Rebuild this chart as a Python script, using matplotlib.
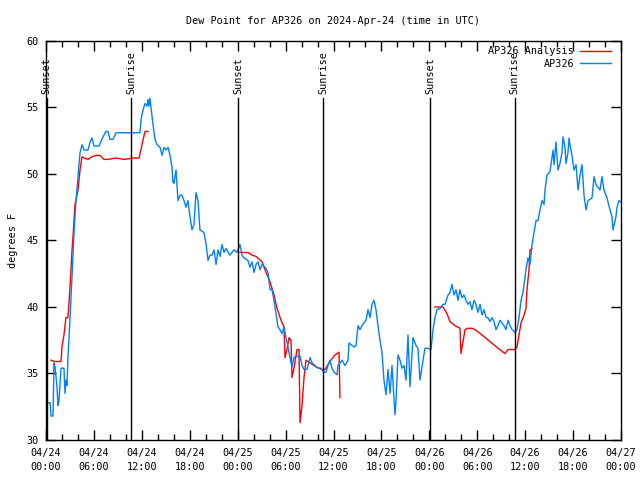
import matplotlib
matplotlib.use("Agg")
import matplotlib.pyplot as plt
import numpy as np
from matplotlib.ticker import MultipleLocator

# hours since 2024-04-24 00:00 UTC
obs_hours = [
    0.25, 0.50, 0.63, 0.88, 1.00, 1.13, 1.38, 1.50, 1.63, 1.88, 2.25, 2.38, 2.50, 2.63, 2.75,
    3.01, 3.26, 3.51, 3.76, 4.01, 4.26, 4.51, 4.76, 5.26, 5.51, 5.76, 6.01, 6.64, 7.14, 7.51,
    7.76, 8.01, 8.39, 8.77, 11.77, 11.90, 12.15, 12.40, 12.65, 12.77, 12.90, 13.02, 13.15, 13.40,
    13.65, 13.90, 14.28, 14.53, 14.78, 15.03, 15.28, 15.53, 15.78, 15.90, 16.03, 16.28, 16.53,
    16.78, 17.03, 17.28, 17.53, 17.78, 18.03, 18.28, 18.53, 18.78, 19.03, 19.28, 19.78, 20.03,
    20.29, 20.54, 20.79, 21.04, 21.29, 21.54, 21.79, 22.04, 22.29, 22.54, 23.04, 23.54, 23.92,
    24.29, 24.54, 24.79, 25.29, 25.54, 25.80, 26.05, 26.30, 26.55, 26.80, 27.05, 27.42, 27.80,
    28.05, 28.30, 28.55, 28.80, 29.05, 29.30, 29.55, 29.80, 30.05, 30.30, 30.55, 30.80, 31.05,
    31.30, 31.81, 32.06, 32.31, 32.68, 33.06, 33.31, 33.68, 34.06, 34.44, 34.81, 35.06, 35.31,
    35.56, 35.81, 36.06, 36.44, 36.56, 37.07, 37.44, 37.82, 37.94, 38.32, 38.57, 38.82, 39.07,
    39.32, 39.57, 40.07, 40.32, 40.57, 40.82, 41.07, 41.32, 41.57, 41.82, 42.07, 42.32, 42.57,
    42.83, 43.08, 43.33, 43.58, 43.70, 43.83, 44.08, 44.33, 44.58, 44.83, 45.08, 45.33, 45.58,
    45.96, 46.33, 46.58, 46.83, 47.21, 47.46, 47.83, 48.21, 48.46, 48.71, 48.96, 49.34, 49.71,
    49.96, 50.34, 50.59, 50.84, 51.09, 51.34, 51.59, 51.84, 52.09, 52.34, 52.59, 52.84, 53.09,
    53.34, 53.59, 53.84, 54.09, 54.35, 54.60, 54.85, 55.10, 55.35, 55.60, 55.85, 56.10, 56.35,
    56.60, 56.85, 57.35, 57.60, 57.85, 58.10, 58.35, 58.73, 58.98, 59.23, 59.48, 59.73, 60.10,
    60.35, 60.61, 60.86, 61.11, 61.36, 61.61, 61.86, 62.11, 62.36, 62.48, 62.73, 63.11, 63.49,
    63.61, 63.86, 64.11, 64.36, 64.61, 64.74, 64.99, 65.11, 65.36, 65.49, 65.61, 65.86, 66.11,
    66.37, 66.62, 66.87, 67.12, 67.37, 67.62, 67.87, 68.37, 68.62, 68.87, 69.37, 69.62, 69.87,
    70.25, 70.62, 70.87, 71.00, 71.37, 71.50, 71.75, 72.00,
]
obs_dewpt = [
    32.8, 32.8, 31.8, 31.8, 35.8, 35.5, 34.0, 32.6, 33.0, 35.4, 35.4, 33.5, 34.5, 34.1, 36.2,
    39.2, 42.3, 45.6, 48.0, 49.8, 51.6, 52.2, 51.8, 51.8, 52.4, 52.7, 52.1, 52.1, 52.8, 53.2,
    53.2, 52.6, 52.6, 53.1, 53.1, 54.1, 54.8, 55.3, 55.1, 55.6, 55.1, 55.7, 55.0, 53.7,
    52.6, 52.2, 52.0, 51.4, 52.0, 51.8, 52.0, 51.4, 50.5, 49.4, 49.3, 50.3, 48.0,
    48.4, 48.4, 48.0, 47.5, 48.0, 46.8, 45.8, 46.2, 48.6, 48.0, 45.8, 45.6, 44.8,
    43.5, 43.9, 43.9, 44.3, 43.2, 44.3, 43.8, 44.7, 44.1, 44.4, 43.9, 44.3, 44.1,
    44.7, 43.9, 43.7, 43.5, 43.0, 43.4, 42.6, 43.2, 43.4, 42.8, 43.2, 43.0, 42.6,
    41.3, 41.3, 40.5, 39.5, 38.5, 38.3, 38.0, 38.5, 37.7, 37.0, 36.2, 35.5, 36.2,
    36.3, 36.3, 35.6, 35.3, 35.3, 36.2, 35.8, 35.6, 35.4, 35.4, 35.1, 35.1, 35.6,
    36.0, 35.4, 35.1, 34.9, 35.6, 36.0, 35.6, 36.0, 37.3, 37.1, 37.0, 37.1, 38.6,
    38.3, 38.6, 39.0, 39.8, 39.2, 40.2, 40.5, 39.8, 38.6, 37.5, 36.6, 34.5, 33.4,
    35.3, 33.5, 35.6, 33.0, 31.9, 33.0, 36.4, 36.0, 35.4, 35.6, 34.5, 37.9, 34.0,
    37.7, 37.1, 36.9, 34.5, 36.0, 36.9, 36.9, 36.8, 38.3, 39.2, 39.8, 39.9, 40.2,
    40.2, 40.9, 41.1, 41.7, 40.9, 41.3, 40.5, 41.3, 40.7, 40.9, 40.5, 40.2, 40.4,
    39.8, 40.5, 40.2, 39.6, 40.2, 39.4, 39.8, 39.2, 39.2, 38.9, 39.2, 38.9, 38.3,
    38.6, 39.0, 38.6, 38.3, 39.0, 38.6, 38.3, 38.1, 38.3, 39.2, 40.5, 41.1, 42.8,
    43.7, 43.2, 44.7, 45.6, 46.5, 46.5, 47.3, 48.0, 47.7, 48.8, 49.9, 50.2, 51.8,
    50.7, 52.4, 50.3, 50.8, 51.6, 52.8, 52.0, 50.8, 51.6, 52.7, 52.2, 51.4, 50.3,
    50.7, 48.8, 49.9, 50.7, 48.4, 47.3, 48.0, 48.2, 49.8, 49.2, 48.8, 49.8, 48.8,
    48.2, 47.3, 46.8, 45.8, 46.8, 47.5, 48.0, 47.9,
]

# analysis series, NaN marks the gaps
ana_hours = [
    0.63, 1.13, 1.88, 2.00, 2.25, 2.50, 2.75, 3.01, 3.26, 3.38, 3.63, 4.01, 4.26, 4.51, 4.76,
    5.26, 5.76, 6.26, 6.76, 7.26, 7.76, 8.77, 9.77, 11.02, 11.65, 12.02, 12.40, 12.77,
    18.0,
    24.29, 25.29, 25.80, 26.30, 27.05, 27.55, 28.05, 28.55, 28.93, 29.43, 29.80, 29.93, 30.18,
    30.43, 30.68, 30.80, 31.05, 31.43, 31.68, 31.81, 32.06, 32.31, 32.56, 33.06, 33.81, 34.56,
    34.94, 35.56, 36.19, 36.69, 36.81,
    42.0,
    48.71, 49.71, 50.21, 50.59, 51.21, 51.84, 51.96, 52.22, 52.47, 52.84, 53.34, 53.72, 54.60,
    55.60, 56.60, 57.48, 57.85, 58.35, 58.73, 58.98, 59.23, 59.48, 59.86, 60.10, 60.23, 60.48,
    60.61, 60.86,
]
ana_dewpt = [
    36.0, 35.9, 35.9, 37.0, 37.9, 39.2, 39.2, 41.5, 44.3, 45.3, 47.7, 48.8, 50.3, 51.3, 51.2,
    51.1, 51.3, 51.4, 51.4, 51.1, 51.1, 51.2, 51.1, 51.2, 51.2, 52.2, 53.2, 53.2,
    np.nan,
    44.1, 44.1, 43.9, 43.8, 43.4, 42.6, 41.9, 40.9, 39.9, 39.0, 38.5, 36.2, 36.8,
    37.7, 37.5, 34.7, 35.4, 36.8, 36.8, 31.3, 32.6, 34.7, 36.0, 35.8, 35.5, 35.3,
    35.3, 35.9, 36.4, 36.6, 33.2,
    np.nan,
    40.0, 40.0, 39.5, 38.9, 38.6, 38.4, 36.5, 37.4, 38.3, 38.4, 38.4, 38.3, 37.9,
    37.4, 36.9, 36.5, 36.8, 36.8, 36.8, 37.0, 37.9, 38.8, 39.4, 39.9, 41.3, 42.8,
    44.3, 44.4,
]

sun_hours = [0.1, 10.65, 24.05, 34.7, 48.1, 58.7]
sun_labels = ["Sunset", "Sunrise", "Sunset", "Sunrise", "Sunset", "Sunrise"]

tick_hours = list(range(0, 73, 6))
tick_labels = [
    "04/24\n00:00", "04/24\n06:00", "04/24\n12:00", "04/24\n18:00",
    "04/25\n00:00", "04/25\n06:00", "04/25\n12:00", "04/25\n18:00",
    "04/26\n00:00", "04/26\n06:00", "04/26\n12:00", "04/26\n18:00",
    "04/27\n00:00",
]

plt.rcParams["font.family"] = ["DejaVu Sans Mono"]
plt.rcParams["font.size"] = 7.3

fig = plt.figure(figsize=(6.4, 4.8), dpi=100)
ax = fig.add_axes([46 / 640, 40 / 480, 575 / 640, 399 / 480])

ax.plot(ana_hours, ana_dewpt, color="#ff0000", lw=1, label="AP326 Analysis")
ax.plot(obs_hours, obs_dewpt, color="#0080ff", lw=1, label="AP326")

for h, lab in zip(sun_hours, sun_labels):
    ax.axvline(h, ymin=0, ymax=0.857, color="black", lw=1)
    ax.text(h, 0.868, lab, transform=ax.get_xaxis_transform(), rotation=90,
            ha="center", va="bottom")

ax.set_xlim(0, 72)
ax.set_ylim(30, 60)
ax.set_xticks(tick_hours)
ax.set_xticklabels(tick_labels, linespacing=1.45)
ax.xaxis.set_minor_locator(MultipleLocator(2))
ax.yaxis.set_major_locator(MultipleLocator(5))
ax.tick_params(which="both", direction="in", top=True, right=True, width=1)
ax.tick_params(which="major", length=7)
ax.tick_params(which="minor", length=4)
ax.tick_params(axis="y", pad=5)
ax.tick_params(axis="x", pad=6)
for sp in ax.spines.values():
    sp.set_linewidth(1)

ax.set_ylabel("degrees F", labelpad=6)
ax.set_title("Dew Point for AP326 on 2024-Apr-24 (time in UTC)", fontsize=7.3, pad=12)

ax.legend(loc="upper right", bbox_to_anchor=(0.989, 0.997), frameon=False,
          markerfirst=False, handlelength=3.0, borderaxespad=0, handletextpad=0.6,
          labelspacing=0.25)

fig.savefig("out.png", dpi=100)
